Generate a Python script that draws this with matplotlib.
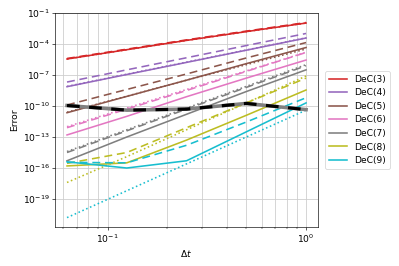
import numpy as np
import matplotlib
matplotlib.use("Agg")
import matplotlib.pyplot as plt

plt.rcParams["font.size"] = 11.5

# time steps
dt = [1 / 16, 1 / 8, 1 / 4, 1 / 2, 1.0]

labels = ["DeC(3)", "DeC(4)", "DeC(5)", "DeC(6)", "DeC(7)", "DeC(8)", "DeC(9)"]
colors = ["tab:red", "tab:purple", "tab:brown", "tab:pink", "tab:gray", "tab:olive", "tab:cyan"]

# log10 of errors
solid = [
    [-5.45, -4.55, -3.65, -2.80, -1.97],
    [-8.13, -6.95, -5.78, -4.60, -3.42],
    [-10.65, -9.07, -7.50, -5.90, -4.34],
    [-12.80, -11.00, -9.10, -7.30, -5.55],
    [-15.30, -13.00, -10.80, -8.60, -6.50],
    [-15.80, -15.50, -13.30, -10.90, -8.45],
    [-15.40, -16.00, -15.30, -12.50, -9.70],
]
dashed = [
    [-5.40, -4.50, -3.60, -2.75, -1.92],
    [-7.68, -6.50, -5.33, -4.15, -2.98],
    [-9.90, -8.40, -6.90, -5.35, -3.86],
    [-12.10, -10.30, -8.50, -6.65, -4.82],
    [-14.50, -12.40, -10.30, -8.20, -6.10],
    [-15.55, -14.50, -12.10, -9.70, -7.30],
    [-15.45, -15.50, -13.80, -11.55, -9.20],
]
dotted = [
    [-5.45, -4.55, -3.65, -2.80, -1.97],
    [-8.10, -6.92, -5.75, -4.58, -3.40],
    [-10.60, -9.05, -7.50, -6.00, -4.48],
    [-12.00, -10.20, -8.40, -6.60, -4.80],
    [-14.40, -12.30, -10.20, -8.10, -6.00],
    [-17.40, -14.90, -12.30, -9.70, -7.10],
    [-20.80, -18.20, -15.60, -13.00, -10.40],
]
# round-off reference
roundoff = [-9.95, -10.40, -10.30, -9.75, -10.35]

fig = plt.figure(figsize=(7.0, 4.667), dpi=57)
ax = fig.add_axes([0.138, 0.147, 0.659, 0.804])

for i in range(len(labels)):
    c = colors[i]
    ax.loglog(dt, 10.0 ** np.array(solid[i]), color=c, lw=2, label=labels[i])
    ax.loglog(dt, 10.0 ** np.array(dashed[i]), color=c, lw=2, ls=(0, (5, 3)))
    ax.loglog(dt, 10.0 ** np.array(dotted[i]), color=c, lw=2, ls=":")

ax.loglog(dt, 10.0 ** np.array(roundoff), color="gray", lw=4.5)
ax.loglog(dt, 10.0 ** np.array(roundoff), color="black", lw=4, ls=(0, (4, 3)))

ax.set_ylim(2e-22, 1e-1)
ax.grid(True, which="major", color="#cccccc", lw=1)
ax.grid(True, which="minor", axis="x", color="#cccccc", lw=1)
ax.set_xlabel("$\\Delta t$")
ax.set_ylabel("Error")
ax.legend(loc="center left", bbox_to_anchor=(1.01, 0.5))

fig.savefig("out.png", dpi=57)
